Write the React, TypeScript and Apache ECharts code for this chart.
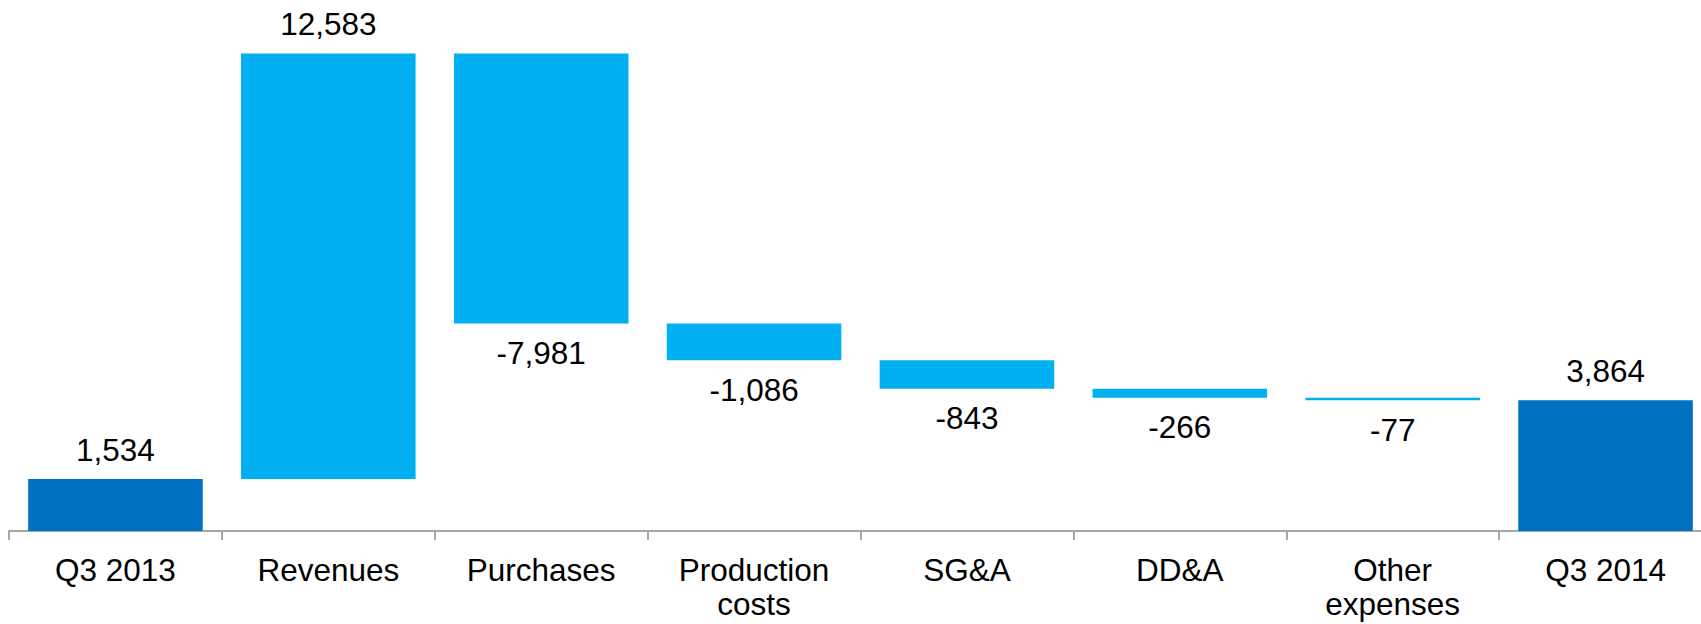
import React, { useEffect, useRef } from "react";
import * as echarts from "echarts";

const categories = ["Q3 2013", "Revenues", "Purchases", "Production\ncosts", "SG&A", "DD&A", "Other\nexpenses", "Q3 2014"];
// Signed values: totals at ends, deltas in between
const values = [1534, 12583, -7981, -1086, -843, -266, -77, 3864];
const isTotal = [true, false, false, false, false, false, false, true];

const TOTAL_COLOR = "#0070C0";
const DELTA_COLOR = "#00B0F0";

export default function App() {
  const ref = useRef<HTMLDivElement>(null);

  useEffect(() => {
    if (!ref.current) return;
    const chart = echarts.init(ref.current, undefined, { renderer: "svg" });

    // waterfall bases from cumulative sums
    const bases: number[] = [];
    const heights: number[] = [];
    let running = 0;
    values.forEach((v, i) => {
      if (isTotal[i]) {
        bases.push(0);
        heights.push(v);
        running = v;
      } else if (v >= 0) {
        bases.push(running);
        heights.push(v);
        running += v;
      } else {
        running += v;
        bases.push(running);
        heights.push(-v);
      }
    });

    const fmt = (v: number) => v.toLocaleString("en-US");
    const font = "Liberation Sans, Arial, sans-serif";

    chart.setOption({
      animation: false,
      grid: { left: 9, right: 0, top: 0, bottom: 93 },
      xAxis: {
        type: "category",
        data: categories,
        axisLine: { lineStyle: { color: "#A6A6A6", width: 2 } },
        axisTick: { show: true, length: 9, lineStyle: { color: "#A6A6A6", width: 2 } },
        axisLabel: {
          color: "#000",
          fontFamily: font,
          fontSize: 31.5,
          lineHeight: 34,
          margin: 22,
          interval: 0,
        },
      },
      yAxis: { type: "value", show: false, min: 0, max: 15700, splitLine: { show: false } },
      series: [
        {
          type: "bar",
          stack: "w",
          silent: true,
          itemStyle: { color: "transparent" },
          data: bases,
          barCategoryGap: "18%",
        },
        {
          type: "bar",
          stack: "w",
          barCategoryGap: "18%",
          data: heights.map((h, i) => ({
            value: h,
            itemStyle: { color: isTotal[i] ? TOTAL_COLOR : DELTA_COLOR },
            label: {
              show: true,
              position: values[i] >= 0 ? "top" : "bottom",
              distance: 14,
              formatter: () => fmt(values[i]),
              color: "#000",
              fontFamily: font,
              fontSize: 31.5,
              lineHeight: 31,
            },
          })),
        },
      ],
    });

    return () => chart.dispose();
  }, []);

  return (
    <div style={{ position: "absolute", left: 0, top: 0, width: 1701, height: 624, overflow: "hidden", background: "#fff" }}>
      <div ref={ref} style={{ width: 1712, height: 624 }} />
    </div>
  );
}
